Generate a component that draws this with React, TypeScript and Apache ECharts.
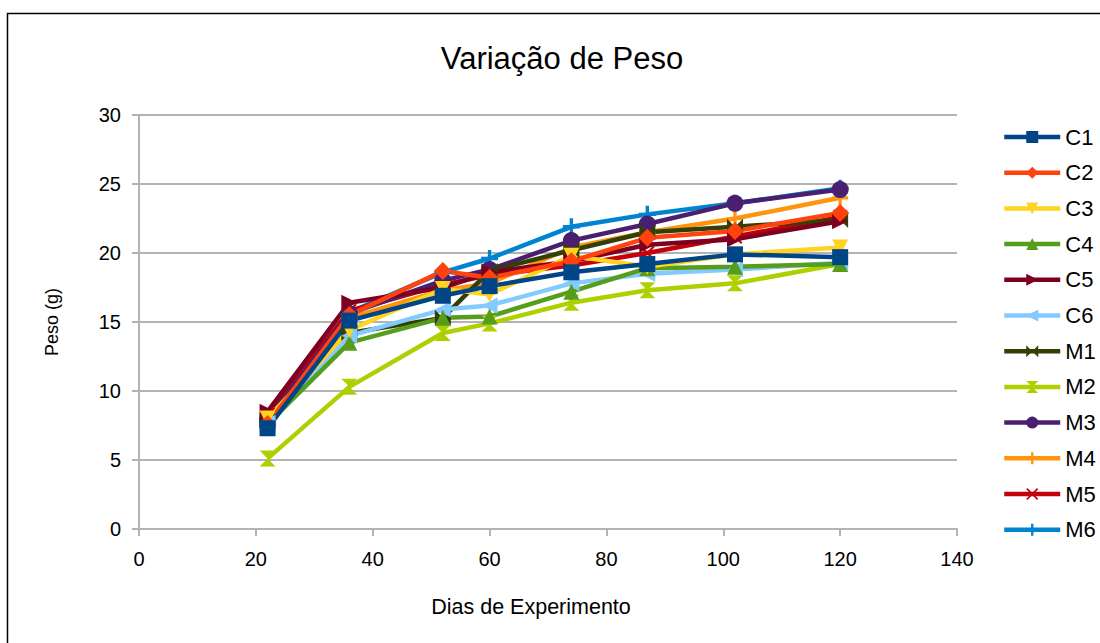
import React, { useEffect, useRef } from "react";
import * as echarts from "echarts";

const days = [22, 36, 52, 60, 74, 87, 102, 120];
const seriesNames = ["C1", "C2", "C3", "C4", "C5", "C6", "M1", "M2", "M3", "M4", "M5", "M6"];
const C1 = [7.3, 15.1, 16.9, 17.6, 18.6, 19.2, 19.9, 19.7];
const C2 = [7.6, 15.5, 18.7, 18.2, 19.4, 21.1, 21.6, 22.9];
const C3 = [8.0, 14.4, 17.4, 17.0, 19.8, 19.0, 19.9, 20.4];
const C4 = [7.6, 13.5, 15.3, 15.4, 17.2, 18.9, 19.0, 19.2];
const C5 = [8.5, 16.4, 17.5, 18.6, 19.4, 20.6, 21.0, 22.3];
const C6 = [7.7, 14.0, 15.9, 16.2, 17.8, 18.5, 18.8, 19.3];
const M1 = [7.8, 14.2, 15.3, 18.7, 20.2, 21.5, 21.9, 22.4];
const M2 = [5.1, 10.3, 14.2, 14.9, 16.4, 17.3, 17.8, 19.2];
const M3 = [7.9, 15.6, 18.0, 18.8, 20.9, 22.1, 23.6, 24.6];
const M4 = [7.7, 15.3, 17.3, 17.8, 20.4, 21.5, 22.5, 24.0];
const M5 = [8.3, 15.8, 17.7, 18.4, 19.1, 20.0, 21.2, 22.6];
const M6 = [7.5, 15.7, 18.6, 19.6, 21.9, 22.8, 23.6, 24.7];
const allValues = [C1, C2, C3, C4, C5, C6, M1, M2, M3, M4, M5, M6];

const colors = ["#004586", "#ff420e", "#ffd320", "#579d1c", "#7e0021", "#83caff", "#314004", "#aecf00", "#4b1f6f", "#ff950e", "#c5000b", "#0084d1"];

const plusPath = "path://M8,0 L12,0 L12,8 L20,8 L20,12 L12,12 L12,20 L8,20 L8,12 L0,12 L0,8 L8,8 Z";
const symbols: { symbol: string; rotate: number; size: number }[] = [
  { symbol: "rect", rotate: 0, size: 16 },
  { symbol: "diamond", rotate: 0, size: 18 },
  { symbol: "triangle", rotate: 180, size: 16 },
  { symbol: "triangle", rotate: 0, size: 16 },
  { symbol: "triangle", rotate: -90, size: 16 },
  { symbol: "triangle", rotate: 90, size: 16 },
  { symbol: "path://M0,0 L10,10 L0,20 Z M20,0 L10,10 L20,20 Z", rotate: 0, size: 16 },
  { symbol: "path://M0,0 L20,0 L10,10 Z M0,20 L20,20 L10,10 Z", rotate: 0, size: 16 },
  { symbol: "circle", rotate: 0, size: 17 },
  { symbol: plusPath, rotate: 0, size: 16 },
  { symbol: "path://M0,2 L2,0 L10,8 L18,0 L20,2 L12,10 L20,18 L18,20 L10,12 L2,20 L0,18 L8,10 Z", rotate: 0, size: 15 },
  { symbol: plusPath, rotate: 0, size: 17 },
];

export default function App() {
  const ref = useRef<HTMLDivElement>(null);
  useEffect(() => {
    if (!ref.current) return;
    const chart = echarts.init(ref.current, null, { renderer: "svg" });
    const series: any[] = [];
    for (let i = seriesNames.length - 1; i >= 0; i--) {
      const s = symbols[i];
      series.push({
        name: seriesNames[i],
        type: "line",
        data: days.map((d, j) => [d, allValues[i][j]]),
        symbol: s.symbol,
        symbolRotate: s.rotate,
        symbolSize: s.size,
        symbolKeepAspect: true,
        showAllSymbol: true,
        lineStyle: { color: colors[i], width: 4.5 },
        itemStyle: { color: colors[i], borderWidth: 0 },
        emphasis: { disabled: true },
      });
    }
    chart.setOption({
      animation: false,
      backgroundColor: "#ffffff",
      textStyle: { fontFamily: "Liberation Sans" },
      title: {
        text: "Variação de Peso",
        left: 557,
        textAlign: "center",
        top: 38,
        textStyle: { fontSize: 31, fontWeight: "normal", color: "#000", fontFamily: "Liberation Sans" },
      },
      grid: { left: 139, right: 143, top: 115, bottom: 114 },
      legend: {
        orient: "vertical",
        left: 1002,
        top: 126,
        padding: 0,
        itemWidth: 56,
        itemHeight: 15,
        itemGap: 13.7,
        data: seriesNames,
        lineStyle: { width: 4.5 },
        textStyle: { fontSize: 22, color: "#000", lineHeight: 22, padding: [0, 0, 0, 0] },
        selectedMode: false,
      },
      xAxis: {
        type: "value",
        min: 0,
        max: 140,
        interval: 20,
        axisLine: { show: true, lineStyle: { color: "#b3b3b3", width: 2 } },
        axisTick: { show: true, length: 7, inside: false, lineStyle: { color: "#b3b3b3", width: 2 } },
        axisLabel: { fontSize: 20, color: "#000", margin: 20 },
        splitLine: { show: false },
      },
      yAxis: {
        type: "value",
        min: 0,
        max: 30,
        interval: 5,
        name: "Peso (g)",
        nameLocation: "middle",
        nameGap: 78,
        nameTextStyle: { fontSize: 18, color: "#000" },
        axisLine: { show: true, lineStyle: { color: "#b3b3b3", width: 2 } },
        axisTick: { show: true, length: 7, inside: false, lineStyle: { color: "#b3b3b3", width: 2 } },
        axisLabel: { fontSize: 20, color: "#000", margin: 18 },
        splitLine: { show: true, lineStyle: { color: "#b3b3b3", width: 2 } },
      },
      graphic: [
        {
          type: "rect",
          shape: { x: 7.5, y: 13.5, width: 1100, height: 640 },
          style: { fill: "none", stroke: "#000", lineWidth: 1.5 },
          silent: true,
        },
        {
          type: "text",
          x: 531,
          y: 607,
          style: {
            text: "Dias de Experimento",
            fontSize: 21.5,
            fontFamily: "Liberation Sans",
            fill: "#000",
            align: "center",
            verticalAlign: "middle",
          },
          silent: true,
        },
      ],
      series,
    });
    return () => chart.dispose();
  }, []);
  return (
    <div
      ref={ref}
      style={{ position: "absolute", left: 0, top: 0, width: 1100, height: 643 }}
    />
  );
}
